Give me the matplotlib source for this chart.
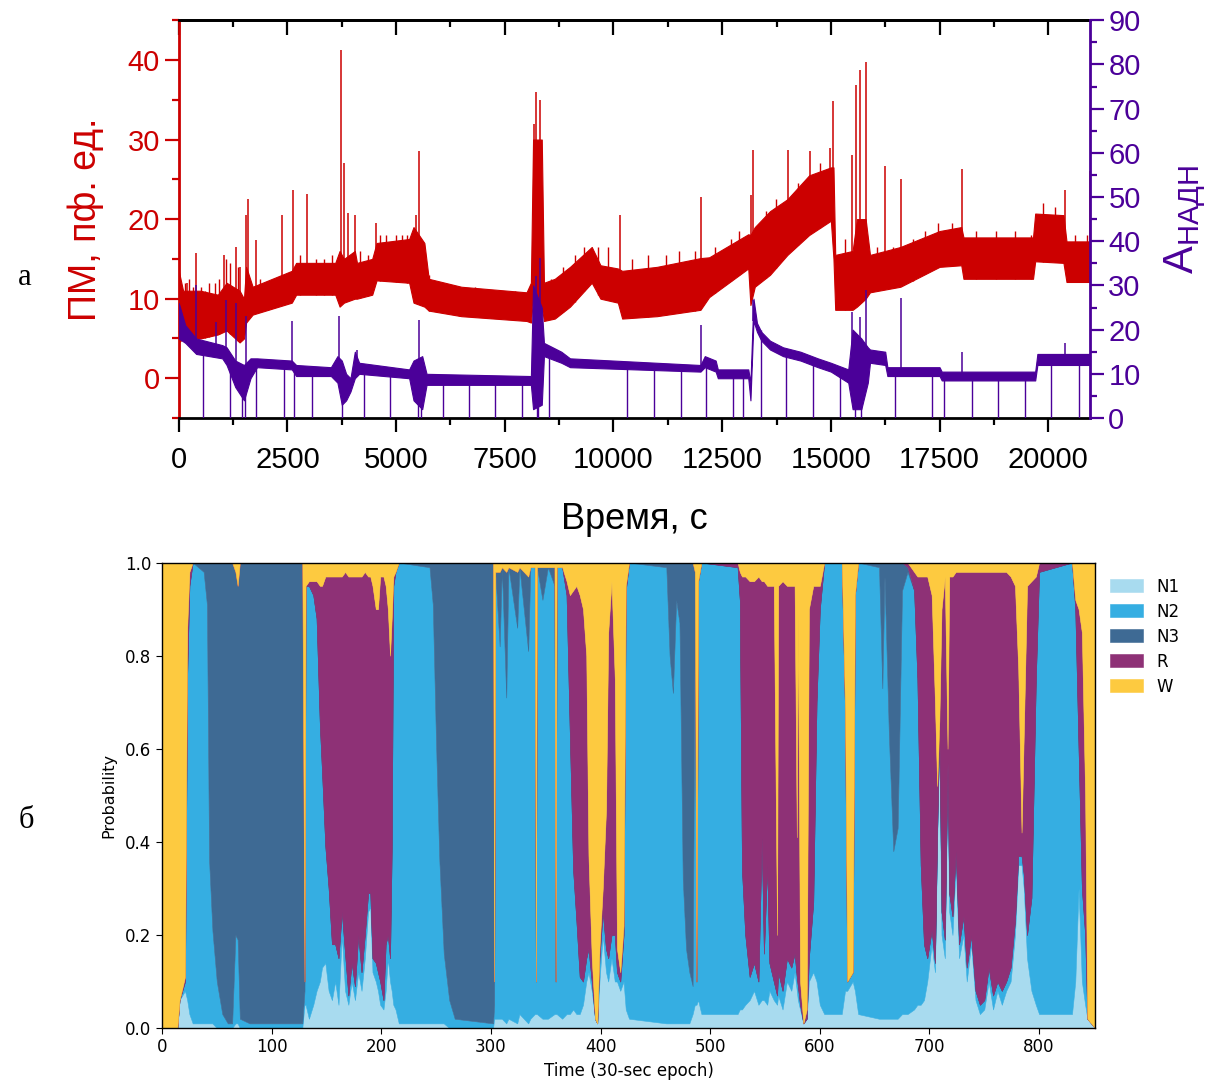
import numpy as np
import matplotlib
matplotlib.use('Agg')
import matplotlib.pyplot as plt
from matplotlib.ticker import MultipleLocator

plt.rcParams['font.family'] = ['Liberation Sans', 'DejaVu Sans']

## (а) ПМ (левая ось): полоса шума - нижняя и верхняя огибающая, с
red_t = [0, 100, 500, 900, 1100, 1400, 1500, 1550, 1700, 2600,
         2700, 3600, 3700, 3800, 4050, 4100, 4450, 4550, 5300, 5400,
         5650, 5750, 6500, 8000, 8100, 8150, 8350, 8400, 8650, 9000,
         9500, 9700, 10100, 10200, 11000, 12000, 12200, 13100, 13150, 13250,
         13600, 14000, 14500, 15000, 15060, 15100, 15500, 15600, 15800, 15900,
         16600, 17500, 18000, 18050, 19650, 19700, 20350, 20420, 20950]
red_lo = [4.5, 5, 5, 5.5, 6, 4.5, 5, 7, 8, 9.5,
          10.5, 10.5, 9, 9.5, 10, 10, 10.5, 12.3, 12, 9.5,
          9, 8.5, 7.8, 7.2, 7, 10, 9, 7.2, 7.5, 9,
          12, 10, 9.5, 7.5, 7.8, 8.6, 10.2, 13.8, 9.2, 11.5,
          13, 15.5, 18, 19.8, 15, 8.6, 8.6, 9, 10, 10.8,
          11.5, 14, 14.2, 12.5, 12.5, 14.7, 14.5, 12.1, 12.1]
red_hi = [13.5, 11, 11, 10.5, 12, 11, 10, 14, 11.5, 13.5,
          14.5, 14.5, 16, 15, 16, 14.5, 15, 17, 17.5, 19,
          17, 12.5, 11.5, 10.8, 12, 30, 30, 12, 12.5, 14,
          16.5, 14.2, 13.8, 13.5, 14, 15.1, 15.2, 18.1, 18, 19,
          21, 22.5, 25.5, 26.5, 26.5, 15.5, 16, 20, 20, 15.5,
          16.5, 18.5, 19, 17.7, 17.7, 20.7, 20.5, 17.2, 17.2]

# крупные пики ПМ
red_spk_t = [200, 390, 1050, 1310, 1400, 1550, 1600, 1770, 2370, 2635,
             2955, 3725, 3800, 3890, 4045, 4530, 5450, 5535, 8180, 8215,
             8300, 10155, 12020, 13170, 13200, 14020, 14520, 14970, 15060, 15480,
             15570, 15660, 15810, 16250, 16610, 18020, 20380, 20970]
red_spk_top = [12, 15.8, 15.5, 16.5, 14, 20.5, 22.5, 17.4, 20.5, 23.7,
               23.2, 41.3, 27, 20.8, 20.5, 19.5, 20.5, 28.6, 32, 36,
               35, 20.5, 22.8, 23, 28.7, 28.7, 28.5, 28.9, 34.9, 28,
               36.9, 38.8, 39.7, 26.7, 25, 26.3, 23.7, 26.1]
red_spk_base = [8, 9, 9, 9, 9, 10, 10, 10, 12, 12,
                13, 13, 13, 14, 14, 15, 15, 15, 10, 10,
                10, 12, 13, 15, 15, 20, 22, 24, 24, 12,
                14, 14, 14, 14, 15, 17, 18, 15]

# мелкие выбросы над полосой
red_sm_t = [137, 229, 320, 503, 595, 686, 824, 915, 1098, 1190,
            1373, 1876, 2059, 2242, 2790, 3157, 3340, 3523, 4163, 4346,
            4621, 4758, 4987, 5124, 5261, 5765, 6085, 6451, 6817, 7183,
            7732, 8555, 8830, 9104, 9333, 9653, 9882, 10427, 10791, 11200,
            11518, 11882, 12336, 12700, 12882, 13518, 13745, 14245, 14745, 15336,
            16064, 16427, 16882, 17155, 17472, 17790, 18336, 18791, 19245, 19609,
            19882, 20155, 20609, 20882]
red_sm_top = [12, 12.5, 11.5, 11.5, 11, 12, 12, 12.5, 15, 14.5,
              14, 12.5, 12, 12.5, 15.5, 15, 15, 15.5, 16, 15.5,
              18, 18, 18, 18, 18, 13, 12, 11.5, 11.5, 11,
              11, 12.5, 14, 15.5, 16.5, 16.5, 16.5, 15, 15.5, 15.5,
              16, 16, 16.5, 17.5, 18.5, 21, 22.5, 24.5, 27, 17.5,
              16.5, 16.5, 17.5, 18.5, 19.5, 19.5, 18.5, 18.5, 18.5, 18,
              22, 21.5, 18, 18]

## А_НАДН (правая ось)
nadh_t = [0, 150, 400, 1000, 1100, 1300, 1500, 1650, 1800, 2600,
          2700, 3500, 3650, 3750, 3850, 3950, 4050, 4150, 5300, 5400,
          5600, 5700, 8100, 8150, 8350, 8400, 8800, 9000, 12000, 12100,
          12350, 12400, 13100, 13150, 13220, 13300, 13400, 13600, 13900, 14300,
          14700, 15000, 15400, 15500, 15700, 15850, 15900, 16250, 16300, 17500,
          17550, 19700, 19750, 20950, 21000]
nadh_lo = [18, 17, 14.5, 13.5, 12, 7, 4, 9, 11.5, 11,
           9.5, 9.5, 8, 3, 4, 6, 9, 10, 9, 4,
           2, 7.5, 7.5, 2, 3, 14, 12.5, 11.5, 10.5, 11.5,
           10.5, 9, 9, 4, 22, 19.5, 17.5, 15.5, 14, 13,
           11.5, 10.5, 8, 2, 2, 8, 12.5, 12, 9.5, 9.5,
           8.5, 8.5, 12, 12, 14]
nadh_hi = [26, 21, 18, 16.5, 16, 13, 12, 13.5, 13.5, 13,
           12, 11.5, 14, 13, 10, 9, 15, 12.5, 11, 13,
           14, 10, 9.5, 30, 25, 17, 15, 13.5, 12, 14,
           13, 11, 11, 8, 27, 21.5, 19.5, 17.5, 16, 15,
           13.5, 12.5, 11, 20, 18, 16, 15.5, 15, 11.5, 11.5,
           10.5, 10.5, 14.5, 14.5, 16]

nadh_up_t = [393, 851, 1098, 1327, 1555, 2608, 3687, 4100, 5535, 8215,
             8300, 12020, 13200, 15480, 15660, 15810, 16610, 18020, 20380]
nadh_up_top = [30, 21.8, 26.8, 26, 23, 22, 23, 15.5, 22.1, 32.2,
               36.1, 21, 26.8, 24, 22.9, 29, 27.2, 15, 17]
nadh_up_base = [17, 15, 14, 10, 8, 12, 12, 10, 10, 10,
                10, 11, 22, 10, 8, 12, 11, 10, 13]

# провалы до нуля
nadh_dn_t = [567, 1190, 1450, 1520, 1784, 2425, 2654, 3065, 3760, 4255,
             4850, 5500, 5580, 6085, 6680, 7274, 7896, 8230, 8270, 8509,
             10318, 10927, 11564, 12136, 12745, 12973, 13382, 13973, 14591, 15200,
             15560, 15700, 16472, 17318, 17609, 18245, 18836, 19472, 20063, 20700]
nadh_dn_top = [15, 13, 10, 10, 12, 12, 11, 10.5, 10, 11,
               10, 10, 10, 9, 8.5, 8.5, 8.5, 15, 15, 14,
               11, 11, 11, 12, 10, 10, 20, 15, 13, 11,
               10, 10, 10.5, 10.5, 10.5, 9.5, 9.5, 9.5, 13, 13]

## (б) вероятности стадий сна по эпохам
epoch = [0, 14, 16, 21, 23, 25, 28, 38, 41, 43, 46, 50, 55, 60, 64, 67, 69, 71, 80, 128, 130,
         131, 134, 138, 141, 144, 146, 149, 152, 155, 158, 161, 164, 167, 170, 173, 176, 179, 182,
         185, 188, 190, 192, 195, 197, 199, 202, 204, 206, 208, 209.5, 211, 213, 216,
         244, 247, 250, 253, 257, 262, 267, 302, 303,
         304, 308, 310, 314, 316, 324, 326, 334, 336, 340, 341, 342, 347, 352, 358, 359, 360, 365,
         369, 372, 375, 378, 381, 384, 387, 389, 392, 395, 397, 399, 402, 405, 407, 410, 413, 415,
         418, 421, 423, 426,
         460, 463, 466, 469, 472, 475, 478, 481, 484, 486, 487.5, 489, 492, 525, 527, 529, 532, 536,
         540, 544, 547, 549, 552, 554, 558, 561, 562, 566, 570, 574, 577, 579, 580, 582, 585, 588,
         590, 594, 597, 600, 604, 620, 623, 625, 630, 632, 635,
         654, 657, 659, 663, 667, 671, 675, 680, 686, 689, 692, 695, 698, 702, 705, 707, 709, 711,
         714, 716.5, 718, 721, 724, 727, 731, 734, 738, 742, 746, 750, 754, 758, 762, 766, 770, 774,
         778, 781, 784, 786, 789, 793, 797, 800, 830, 833, 836, 839, 842, 844, 851]
p_n1 = [0, 0, .06, .08, .06, .03, .01, .01, .01, .01, .01, 0, 0, 0, 0, .01, .01, 0, 0, 0, .05,
        .05, .02, .05, .08, .10, .13, .14, .08, .06, .10, .05, .20, .08, .05, .10, .06, .12, .08,
        .15, .25, .26, .12, .10, .08, .05, .04, .08, .15, .10, .08, .05, .04, .01,
        .01, .01, .01, .01, .01, 0, 0, 0, .02,
        .02, .02, .02, .01, .02, .01, .03, .01, .02, .03, .03, .03, .02, .02, .03, .03, .03, .02,
        .03, .03, .04, .03, .03, .05, .10, .12, .08, .02, .01, .10, .20, .12, .10, .15, .10, .10,
        .08, .10, .04, .02,
        .01, .01, .01, .01, .01, .01, .01, .01, .03, .05, .05, .06, .03, .03, .04, .04, .05, .06,
        .08, .05, .06, .06, .05, .08, .06, .05, .07, .04, .10, .08, .12, .08, .06, .04, .01, .02,
        .10, .12, .10, .05, .03, .03, .08, .08, .10, .08, .03,
        .02, .02, .02, .02, .02, .02, .03, .03, .04, .05, .05, .06, .10, .18, .12, .40, .62, .20,
        .15, .55, .25, .20, .35, .15, .20, .10, .18, .06, .03, .04, .10, .04, .08, .05, .08, .10,
        .20, .35, .35, .30, .15, .08, .05, .03, .03, .10, .30, .10, .05, .02, 0]
p_n2 = [0, 0, 0, .02, .70, .92, .99, .97, .90, .35, .20, .10, .03, .01, .01, .19, .18, .02, .01, .01, .03,
        .90, .93, .88, .80, .55, .42, .25, .22, .12, .08, .10, .05, .08, .02, .04, .03, .08, .04,
        .05, .04, .03, .03, .04, .04, .05, .02, .10, .05, .05, .30, .90, .94, .99,
        .98, .90, .60, .35, .15, .06, .02, .01, .03,
        .96, .80, .97, .70, .97, .85, .96, .80, .97, .96, .07, .96, .90, .97, .92, .07, .96, .97,
        .90, .60, .30, .20, .08, .05, .05, .05, .02, 0, 0, .05, .05, .05, .05, .05, .10, .02,
        .02, .10, .90, .98,
        .98, .79, .71, .91, .86, .31, .16, .11, .06, .85, .05, .90, .97, .96, .88, .30, .15, .05,
        .06, .05, .35, .10, .30, .06, .04, .02, .05, .04, .05, .05, .04, .03, .03, .01, 0, 0,
        .05, .15, .60, .85, .97, .97, .60, .02, .02, .85, .97,
        .97, .71, .95, .61, .36, .41, .91, .95, .90, .70, .30, .12, .05, .03, .02, .02, .02, .05,
        .04, .02, .04, .04, .03, .03, .04, .03, .02, .02, .02, .02, .03, .03, .02, .03, .02, .03,
        .03, .02, .02, .03, .05, .20, .70, .95, .97, .80, .30, .20, .15, 0, 0]
p_n3 = [0, 0, 0, 0, 0, 0, 0, .02, .09, .64, .79, .90, .97, .99, .99, .78, .76, .98, .99, .99, .02,
        0, 0, 0, 0, 0, 0, 0, 0, 0, 0, 0, 0, 0, 0, 0, 0, 0, 0,
        0, 0, 0, 0, 0, 0, 0, 0, 0, 0, 0, 0, 0, 0, 0,
        .01, .09, .39, .64, .84, .94, .98, .99, .05,
        0, .16, 0, .27, 0, .12, 0, .16, 0, 0, 0, 0, .07, 0, .04, 0, 0, 0,
        0, 0, 0, 0, 0, 0, 0, 0, 0, 0, 0, 0, 0, 0, 0, 0, 0, 0,
        0, 0, 0, 0,
        .01, .20, .28, .08, .13, .68, .83, .88, .91, .08, 0, 0, 0, 0, 0, 0, 0, 0,
        0, 0, 0, 0, 0, 0, 0, 0, 0, 0, 0, 0, 0, 0, 0, 0, 0, 0,
        0, 0, 0, 0, 0, 0, 0, 0, 0, 0, 0,
        .01, .27, .03, .37, .62, .57, .06, .01, 0, 0, 0, 0, 0, 0, 0, 0, 0, 0,
        0, 0, 0, 0, 0, 0, 0, 0, 0, 0, 0, 0, 0, 0, 0, 0, 0, 0,
        0, 0, 0, 0, 0, 0, 0, 0, 0, 0, 0, 0, 0, 0, 0]
p_r = [0, 0, 0, .01, .10, .03, 0, 0, 0, 0, 0, 0, 0, 0, 0, 0, 0, 0, 0, 0, 0,
       0, .01, .03, .08, .30, .40, .58, .67, .79, .79, .82, .72, .82, .90, .83, .88, .77, .85,
       .78, .68, .68, .80, .76, .78, .87, .91, .77, .70, .65, .50, .02, 0, 0,
       0, 0, 0, 0, 0, 0, 0, 0, 0,
       0, 0, 0, 0, 0, 0, 0, 0, 0, 0, 0, 0, 0, 0, 0, 0, 0, 0,
       .03, .30, .60, .72, .82, .80, .65, .20, .05, 0, 0, .02, .05, .30, .70, .76, .55, .05,
       .02, .02, .01, 0,
       0, 0, 0, 0, 0, 0, 0, 0, 0, 0, 0, 0, 0, .01, .06, .63, .77, .85,
       .82, .87, .55, .80, .60, .81, .85, .13, .83, .88, .80, .82, .79, .30, .80, .05, 0, .02,
       .75, .68, .25, .05, 0, 0, 0, 0, 0, 0, 0,
       0, 0, 0, 0, 0, 0, 0, .01, .04, .22, .62, .79, .82, .72, .56, .10, .02, .65,
       .78, .03, .68, .73, .60, .80, .74, .85, .78, .90, .93, .92, .85, .91, .88, .90, .88, .84,
       .72, .40, .05, .30, .75, .68, .22, .02, 0, .02, .30, .55, .30, 0, 0]
p_w = [1, 1, .94, .89, .14, .02, 0, 0, 0, 0, 0, 0, 0, 0, 0, .02, .05, 0, 0, 0, .90,
       .05, .04, .04, .04, .05, .05, .03, .03, .03, .03, .03, .03, .02, .03, .03, .03, .03, .03,
       .02, .03, .03, .05, .10, .10, .03, .03, .05, .10, .20, .12, .03, .02, 0,
       0, 0, 0, 0, 0, 0, 0, 0, .90,
       .02, .02, .01, .02, .01, .02, .01, .03, .01, .01, .90, .01, .01, .01, .01, .90, .01, .01,
       .04, .07, .06, .05, .07, .10, .20, .63, .85, .98, .99, .83, .70, .53, .15, .04, .25, .83,
       .88, .78, .05, 0,
       0, 0, 0, 0, 0, 0, 0, 0, 0, .02, .90, .04, 0, 0, .02, .03, .03, .04,
       .04, .03, .04, .04, .05, .05, .05, .80, .05, .04, .05, .05, .05, .59, .11, .90, .99, .96,
       .10, .05, .05, .05, 0, 0, .32, .90, .88, .07, 0,
       0, 0, 0, 0, 0, 0, 0, 0, .02, .03, .03, .03, .03, .07, .30, .48, .34, .10,
       .03, .40, .03, .03, .02, .02, .02, .02, .02, .02, .02, .02, .02, .02, .02, .02, .02, .03,
       .05, .23, .58, .37, .05, .04, .03, 0, 0, .08, .10, .15, .50, .98, 1]

stages = ['N1', 'N2', 'N3', 'R', 'W']
stage_colors = ['#a8dbef', '#35aee2', '#3e6a94', '#8e3176', '#fdca40']

RED = '#cc0000'
PURPLE = '#4b0099'

fig = plt.figure(figsize=(12.16, 10.81), dpi=100)

##---------------- верхний график ----------------
ax1 = fig.add_axes([0.147, 0.6133, 0.749, 0.368])
ax1.fill_between(red_t, red_lo, red_hi, color=RED, lw=0.8)
ax1.vlines(red_spk_t, red_spk_base, red_spk_top, color=RED, lw=1.1)
sm_base = np.interp(red_sm_t, red_t, red_lo)
ax1.vlines(red_sm_t, sm_base, red_sm_top, color=RED, lw=1.0)
ax1.set_xlim(0, 20950)
ax1.set_ylim(-5, 45)

ax2 = ax1.twinx()
ax2.fill_between(nadh_t, nadh_lo, nadh_hi, color=PURPLE, lw=0.8)
ax2.vlines(nadh_up_t, nadh_up_base, nadh_up_top, color=PURPLE, lw=1.1)
ax2.vlines(nadh_dn_t, 0, nadh_dn_top, color=PURPLE, lw=1.0)
ax2.set_ylim(0, 90)

for sp in ['left', 'right', 'top', 'bottom']:
    ax1.spines[sp].set_linewidth(2)
    ax2.spines[sp].set_linewidth(2)
ax1.spines['left'].set_color(RED)
ax1.spines['right'].set_visible(False)
ax2.spines['left'].set_visible(False)
ax2.spines['top'].set_visible(False)
ax2.spines['bottom'].set_visible(False)
ax2.spines['right'].set_color(PURPLE)

ax1.xaxis.set_major_locator(MultipleLocator(2500))
ax1.xaxis.set_minor_locator(MultipleLocator(1250))
ax1.yaxis.set_major_locator(MultipleLocator(10))
ax1.yaxis.set_minor_locator(MultipleLocator(5))
ax2.yaxis.set_major_locator(MultipleLocator(10))
ax2.yaxis.set_minor_locator(MultipleLocator(5))

ax1.tick_params(axis='x', which='both', direction='out', colors='black', labelsize=21, width=1.6, pad=10)
ax1.tick_params(axis='x', which='major', length=10)
ax1.tick_params(axis='x', which='minor', length=5)
ax1.tick_params(axis='y', which='both', direction='out', colors=RED, labelsize=21, width=1.6)
ax1.tick_params(axis='y', which='major', length=10)
ax1.tick_params(axis='y', which='minor', length=5)
ax2.tick_params(axis='y', which='both', direction='out', colors=PURPLE, labelsize=21, width=1.6)
ax2.tick_params(axis='y', which='major', length=10)
ax2.tick_params(axis='y', which='minor', length=5)

# верхние засечки внутрь
top = ax1.secondary_xaxis('top')
top.xaxis.set_major_locator(MultipleLocator(2500))
top.xaxis.set_minor_locator(MultipleLocator(1250))
top.tick_params(axis='x', which='both', direction='in', labeltop=False, width=1.6)
top.tick_params(axis='x', which='major', length=11)
top.tick_params(axis='x', which='minor', length=5)
top.spines['top'].set_linewidth(2)

ax1.set_xlabel('Время, с', fontsize=26, labelpad=20)
ax1.set_ylabel('ПМ, пф. ед.', fontsize=27, color=RED, labelpad=17)
ax2.set_ylabel('А$_{\\mathregular{НАДН}}$', fontsize=30, color=PURPLE, labelpad=16)

##---------------- нижний график ----------------
ax3 = fig.add_axes([0.1332, 0.049, 0.7673, 0.4306])
ax3.stackplot(epoch, p_n1, p_n2, p_n3, p_r, p_w, colors=stage_colors, labels=stages,
              lw=0.4, edgecolor='face')
ax3.set_xlim(0, 851)
ax3.set_ylim(0, 1)
ax3.set_xticks([0, 100, 200, 300, 400, 500, 600, 700, 800])
ax3.set_yticks([0, 0.2, 0.4, 0.6, 0.8, 1.0])
ax3.tick_params(labelsize=12, labelfontfamily='DejaVu Sans', length=4)
ax3.set_xlabel('Time (30-sec epoch)', fontsize=12, family='DejaVu Sans', labelpad=4)
ax3.set_ylabel('Probability', fontsize=11.5, family='DejaVu Sans', labelpad=6)
for sp in ax3.spines.values():
    sp.set_linewidth(1.0)
ax3.legend(loc='upper left', bbox_to_anchor=(1.0, 1.0), frameon=False,
           prop={'family': 'DejaVu Sans', 'size': 12}, handlelength=2.0,
           handleheight=0.8, labelspacing=0.42)

fig.text(0.015, 0.743, 'а', fontsize=22, family='Liberation Serif', va='center')
fig.text(0.015, 0.241, 'б', fontsize=22, family='Liberation Serif', va='center')

fig.savefig('out.png', dpi=100)
